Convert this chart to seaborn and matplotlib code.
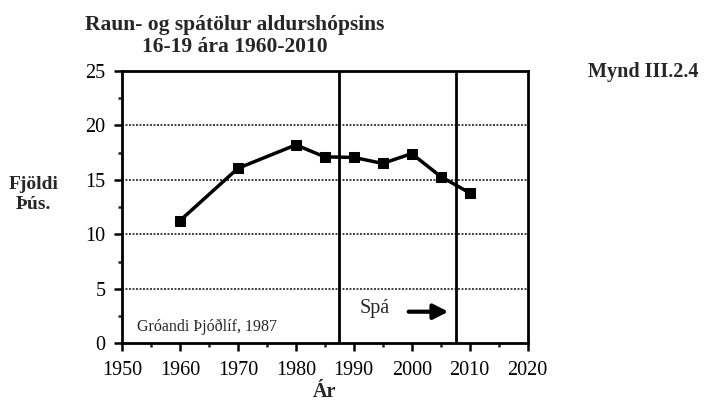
import numpy as np
import seaborn as sns
import matplotlib.pyplot as plt
import pandas as pd
from matplotlib.ticker import MultipleLocator

# data (thousands of people aged 16-19)
years = [1960, 1970, 1980, 1985, 1990, 1995, 2000, 2005, 2010]
fjoldi = [11.25, 16.05, 18.2, 17.1, 17.05, 16.5, 17.4, 15.3, 13.8]
spa_lines = [1987.4, 2007.6]
xticks = [1950, 1960, 1970, 1980, 1990, 2000, 2010, 2020]
yticks = [0, 5, 10, 15, 20, 25]

df = pd.DataFrame({'ar': years, 'fjoldi': fjoldi})

sns.set_style("ticks")
plt.rcParams['font.family'] = ['Liberation Serif', 'DejaVu Serif']

fig = plt.figure(figsize=(7.11, 4.09), dpi=100)
ax = fig.add_axes([0.1716, 0.1606, 0.5704, 0.6664])

# horizontal dotted grid
for y in yticks[1:-1]:
    ax.axhline(y, color='0.25', lw=1.4, ls=(0, (1, 0.8)), zorder=1)

# forecast boundaries
for x in spa_lines:
    ax.axvline(x, color='black', lw=2, zorder=2)

sns.lineplot(data=df, x='ar', y='fjoldi', ax=ax, color='black', lw=2.5,
             marker='s', markersize=7, markeredgecolor='black', zorder=3)

ax.set_xlim(1950, 2020)
ax.set_ylim(0, 25)
ax.set_xticks(xticks)
ax.set_yticks(yticks)
ax.xaxis.set_minor_locator(MultipleLocator(5))
ax.yaxis.set_minor_locator(MultipleLocator(2.5))
ax.tick_params(which='major', direction='out', length=6, width=1.8, labelsize=14.5, colors='black')
ax.tick_params(axis='x', which='major', pad=7)
ax.tick_params(axis='y', which='major', pad=6)
ax.tick_params(which='minor', direction='out', length=3, width=1.8)
for s in ax.spines.values():
    s.set_visible(True)
    s.set_linewidth(2)
    s.set_color('black')

ax.set_xlabel('Ár', fontsize=14.5, fontweight='bold', labelpad=1)
ax.set_ylabel('')

ax.text(1952.6, 1.5, 'Gróandi Þjóðlíf, 1987', fontsize=11.5, va='center', ha='left')
ax.text(1991, 3.2, 'Spá', fontsize=14.5, va='center', ha='left')
ax.annotate('', xy=(2006.8, 2.9), xytext=(1999.0, 2.9),
            arrowprops=dict(arrowstyle='-|>,head_length=0.55,head_width=0.28',
                            color='black', lw=3, mutation_scale=16))

fig.text(0.330, 0.912, 'Raun- og spátölur aldurshópsins\n16-19 ára 1960-2010',
         ha='center', va='center', fontsize=15.5, fontweight='bold', linespacing=1.15)
fig.text(0.047, 0.525, 'Fjöldi\nÞús.', ha='center', va='center', fontsize=14,
         fontweight='bold', linespacing=1.2)
fig.text(0.905, 0.825, 'Mynd III.2.4', ha='center', va='center', fontsize=14.5,
         fontweight='bold')

fig.savefig('out.png', dpi=100)
